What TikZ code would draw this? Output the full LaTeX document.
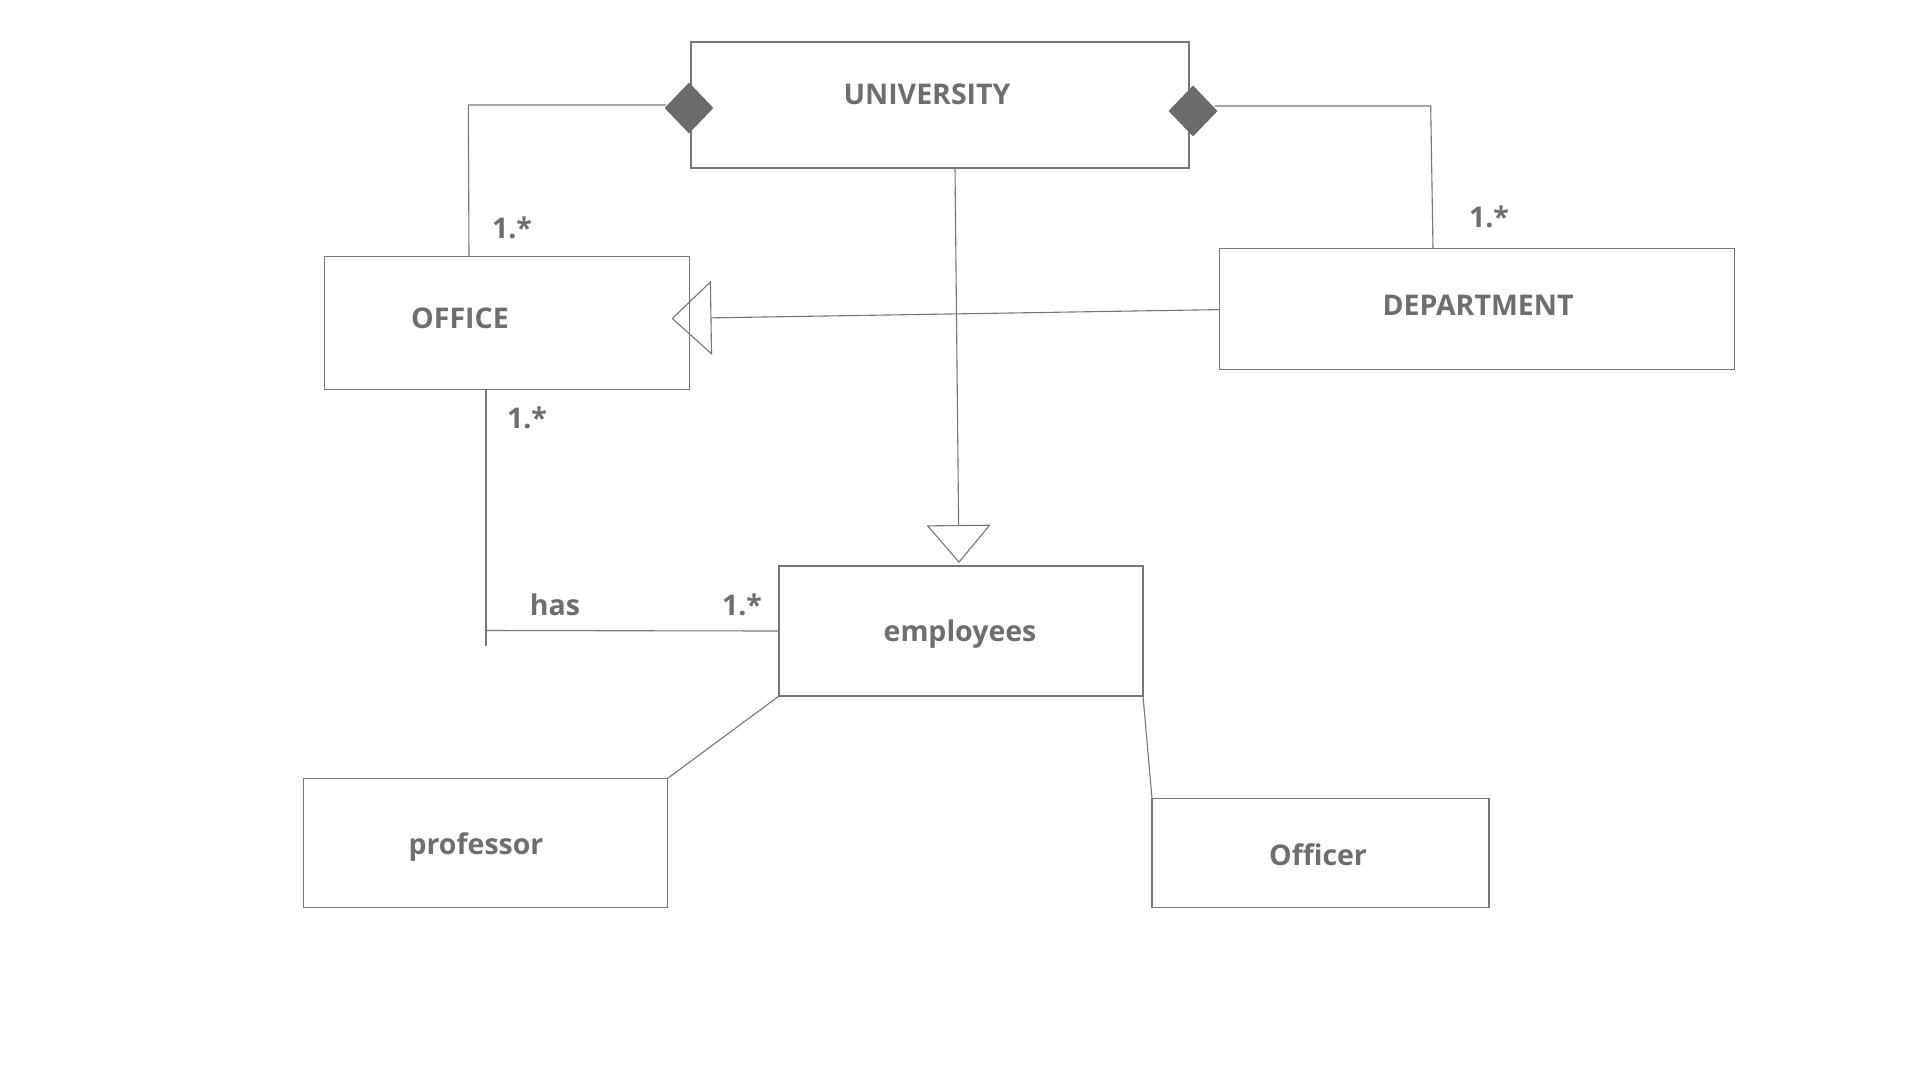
\documentclass[tikz,border=0pt]{standalone}
\usepackage{fontspec}
\setmainfont{Open Sans}
\usetikzlibrary{arrows.meta,shapes.geometric,calc}
\definecolor{lc}{HTML}{767676}
\definecolor{tc}{HTML}{6E6E6E}
\definecolor{df}{HTML}{6B6B6B}
\begin{document}
\begin{tikzpicture}[x=1pt,y=-1pt,
  box/.style={draw=lc,line width=1.1pt,inner sep=0pt,outer sep=0pt},
  lbl/.style={text=tc,font=\fontsize{28.5}{32}\selectfont\bfseries,anchor=base,inner sep=0pt},
  conn/.style={draw=lc,line width=1.1pt},
  comp/.style={diamond,fill=df,draw=none,inner sep=0pt,minimum width=49pt,minimum height=51pt},
  gen/.style={conn,-{Triangle[open,length=38pt,width=64pt,line width=1.1pt]}}]
\useasboundingbox (0,0) rectangle (1920,1080);
\fill[white] (0,0) rectangle (1920,1080);
% boxes
\node[box,minimum width=498pt,minimum height=126pt] (univ) at (940,105) {};
\node[box,minimum width=365pt,minimum height=133pt] (office) at (507,323) {};
\node[box,minimum width=515pt,minimum height=121pt] (dept) at (1477,309) {};
\node[box,minimum width=364pt,minimum height=130pt] (emp) at (961,631) {};
\node[box,minimum width=364pt,minimum height=129pt] (prof) at (485.5,843) {};
\node[box,minimum width=337pt,minimum height=109pt] (officer) at (1320.5,853) {};
% texts
\node[lbl] (tuniv) at (927,104) {UNIVERSITY};
\node[lbl] (toffice) at (460,328.5) {OFFICE};
\node[lbl] (tdept) at (1478,315) {DEPARTMENT};
\node[lbl] (temp) at (960,641) {employees};
\node[lbl] (tprof) at (476,854) {professor};
\node[lbl] (tofficer) at (1318,865) {Officer};
% composition diamonds
\node[comp] (dl) at (689,108) {};
\node[comp] (dr) at (1193,111) {};
% connectors
\draw[conn] ($(dl.west)+(1.5,-3)$) -- ++(-197.5,0) coordinate (cl) -- ($(office.north west)+(144.5,0)$);
\draw[conn] ($(dr.east)+(-3,-5)$) -- ++(216,0) coordinate (cr) -- ($(dept.north west)+(213.5,0)$);
\draw[conn,-{Triangle[open,length=40pt,width=74pt,line width=1.1pt]}] ($(dept.west)+(0,0.6)$) -- ($(office.east)+(-18,-4.5)$);
\draw[gen] ($(univ.south)+(15,0)$) -- ($(emp.north)+(-2,-3)$);
\draw[conn] ($(office.south west)+(161.5,0)$) -- ++(0,256) coordinate (hasend);
\draw[conn] ($(office.south west)+(161.5,241)$) -- (emp.west);
\draw[conn] (emp.south west) -- (prof.north east);
\draw[conn] (emp.south east) -- (officer.north west);
% multiplicities
\node[lbl] (m1) at (512,238) {1.*};
\node[lbl] (m2) at (1489,227) {1.*};
\node[lbl] (m3) at (527,428) {1.*};
\node[lbl] (has) at (555,615) {has};
\node[lbl] (m4) at (742,615) {1.*};
\end{tikzpicture}
\end{document}
